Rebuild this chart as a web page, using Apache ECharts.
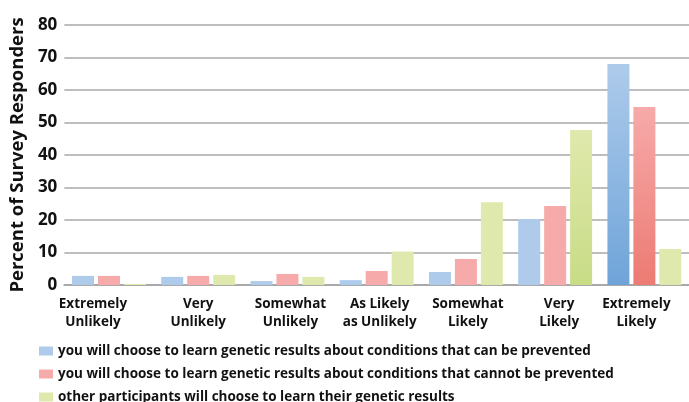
<!DOCTYPE html>
<html>
<head>
<meta charset="utf-8">
<script src="https://cdn.jsdelivr.net/npm/echarts@6/dist/echarts.min.js"></script>
<style>
  html, body { margin: 0; padding: 0; background: #ffffff; }
  #chart { width: 689px; height: 402px; }
</style>
</head>
<body>
<div id="chart"></div>
<script>
// Response categories along the x axis
const categories = [
  'Extremely\nUnlikely',
  'Very\nUnlikely',
  'Somewhat\nUnlikely',
  'As Likely\nas Unlikely',
  'Somewhat\nLikely',
  'Very\nLikely',
  'Extremely\nLikely'
];

// Series names
const seriesNames = [
  'you will choose to learn genetic results about conditions that can be prevented',
  'you will choose to learn genetic results about conditions that cannot be prevented',
  'other participants will choose to learn their genetic results'
];

// Percent of survey responders per category
const canBePrevented    = [2.8, 2.5, 1.2, 1.5, 4.0, 20.3, 68.0];
const cannotBePrevented = [2.8, 2.8, 3.4, 4.3, 8.0, 24.3, 54.8];
const otherParticipants = [0.3, 3.1, 2.5, 10.3, 25.5, 47.7, 11.1];

// Y axis ticks
const yMin = 0;
const yMax = 80;
const yStep = 10;

// Bar colours: flat fill plus a darker bottom shade for emphasised bars
const palette = [
  { top: '#aecbeb', bottom: '#6fa4d9' },
  { top: '#f7aaaa', bottom: '#ec7b73' },
  { top: '#e0e9ad', bottom: '#c8dc86' }
];
// Which bars (by category index) are shaded with a gradient in each series
const shadedBars = [[6], [6], [5]];

// Horizontal nudge of a few category labels (px, negative = left)
const labelShift = [-16, 0, 3, 3, 2, 4, -8];

const FONT = '"Open Sans", Lato, sans-serif';

function buildData(values, sIdx) {
  const c = palette[sIdx];
  return values.map((v, i) => {
    if (shadedBars[sIdx].indexOf(i) === -1) return v;
    return {
      value: v,
      itemStyle: {
        color: {
          type: 'linear', x: 0, y: 0, x2: 0, y2: 1,
          colorStops: [
            { offset: 0, color: c.top },
            { offset: 1, color: c.bottom }
          ]
        }
      }
    };
  });
}

const seriesValues = [canBePrevented, cannotBePrevented, otherParticipants];

const categoryData = categories.map((name, i) => {
  const s = labelShift[i];
  return {
    value: name,
    textStyle: {
      padding: s < 0 ? [0, -2 * s, 0, 0] : [0, 0, 0, 2 * s]
    }
  };
});

// One legend row per series, stacked under the plot
const legendTops = [339, 362, 385];
const legends = seriesNames.map((name, i) => ({
  orient: 'horizontal',
  left: 34,
  top: legendTops[i],
  itemWidth: 14,
  itemHeight: 9,
  icon: 'rect',
  data: [name],
  selectedMode: false,
  textStyle: {
    fontFamily: FONT,
    fontWeight: 'bold',
    fontSize: 13.5,
    color: '#111111'
  }
}));

const chart = echarts.init(document.getElementById('chart'), null, { renderer: 'canvas' });

chart.setOption({
  animation: false,
  backgroundColor: '#ffffff',
  grid: { left: 62, top: 25, width: 634, height: 260, containLabel: false },
  legend: legends,
  xAxis: {
    type: 'category',
    data: categoryData,
    axisLine: { show: true, lineStyle: { color: '#a9a9a9', width: 2 } },
    axisTick: { show: false },
    axisLabel: {
      interval: 0,
      margin: 10,
      fontFamily: FONT,
      fontWeight: 'bold',
      fontSize: 13.5,
      lineHeight: 18,
      color: '#111111'
    }
  },
  yAxis: {
    type: 'value',
    min: yMin,
    max: yMax,
    interval: yStep,
    name: 'Percent of Survey Responders',
    nameLocation: 'middle',
    nameGap: 34,
    nameTextStyle: {
      fontFamily: FONT,
      fontWeight: 'bold',
      fontSize: 18.5,
      color: '#111111'
    },
    axisLine: { show: false },
    axisTick: { show: false },
    splitLine: { show: true, lineStyle: { color: '#a9a9a9', width: 1.5 } },
    axisLabel: {
      margin: 7,
      fontFamily: FONT,
      fontWeight: 'bold',
      fontSize: 17,
      color: '#111111'
    }
  },
  series: seriesValues.map((vals, i) => ({
    name: seriesNames[i],
    type: 'bar',
    barWidth: 22,
    barGap: '18%',
    itemStyle: { color: palette[i].top },
    data: buildData(vals, i)
  }))
});
</script>
</body>
</html>
